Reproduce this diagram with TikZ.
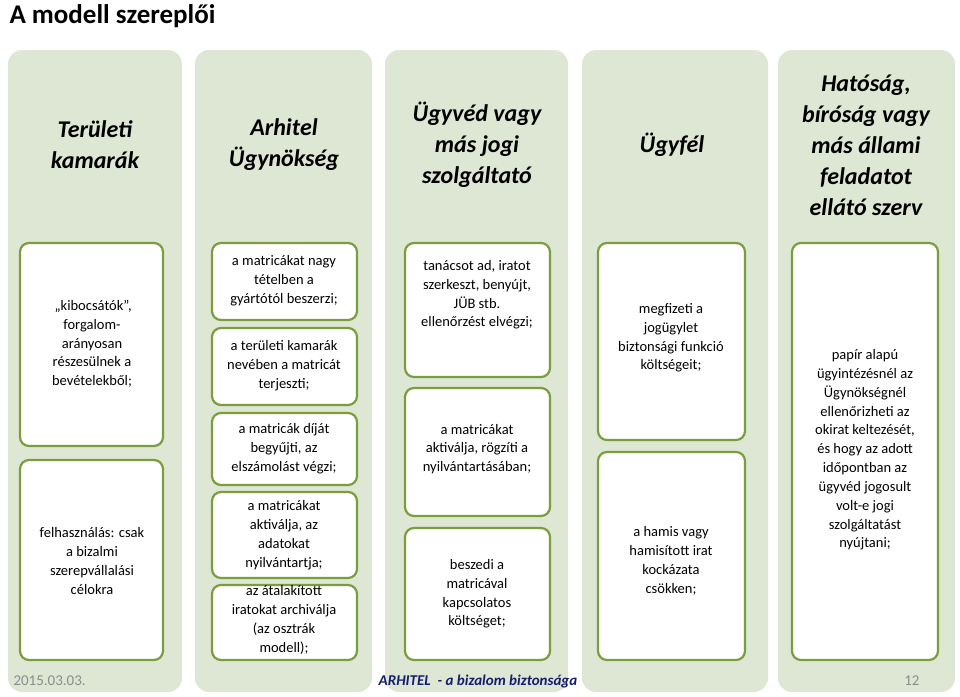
\documentclass[tikz,border=0pt]{standalone}
\usepackage{fontspec}
\setmainfont{Carlito}
\usetikzlibrary{positioning}
\definecolor{colbg}{RGB}{222,231,212}
\definecolor{boxline}{RGB}{122,158,62}
\definecolor{footblue}{RGB}{20,30,110}

\begin{document}
\begin{tikzpicture}[x=1pt,y=-1pt]
		\tikzset{
			column/.style={fill=colbg,draw=none,rounded corners=14pt},
			head/.style={font=\fontsize{24}{31}\selectfont\bfseries\itshape,align=center},
			item/.style={draw=boxline,line width=2.2pt,fill=white,rounded corners=9pt},
			itemtext/.style={font=\fontsize{14.5}{18.8}\selectfont,align=center}
		}
		\useasboundingbox (0,0) rectangle (960,696);
		\node[anchor=west,font=\fontsize{27}{30}\selectfont\bfseries] (title) at (6,16) {A modell szereplői};
		% background columns
		\fill[column] (8,50) rectangle (182,692);
		\fill[column] (195,50) rectangle (372,692);
		\fill[column] (385,50) rectangle (568,692);
		\fill[column] (582,50) rectangle (768,692);
		\fill[column] (778,50) rectangle (955,692);
		% headers
		\node[head] (h1) at (95,145) {Területi\\kamarák};
		\node[head] (h2) at (284,145) {Arhitel\\Ügynökség};
		\node[head] (h3) at (477,145) {Ügyvéd vagy\\más jogi\\szolgáltató};
		\node[head] (h4) at (672,145) {Ügyfél};
		\node[head] (h5) at (866,145) {Hatóság,\\bíróság vagy\\más állami\\feladatot\\ellátó szerv};
		% item boxes
		\draw[item] (20,243) rectangle (163,446);
		\draw[item] (20,460) rectangle (163,660);
		\draw[item] (212,243) rectangle (357,320);
		\draw[item] (212,328) rectangle (357,405);
		\draw[item] (212,413) rectangle (357,485);
		\draw[item] (212,492) rectangle (357,578);
		\draw[item] (212,585) rectangle (357,660);
		\draw[item] (405,243) rectangle (550,377);
		\draw[item] (405,388) rectangle (550,516);
		\draw[item] (405,528) rectangle (550,660);
		\draw[item] (598,243) rectangle (745,440);
		\draw[item] (598,452) rectangle (745,660);
		\draw[item] (792,243) rectangle (938,660);
		% item texts
		\node[itemtext] (t11) at (92,344) {\,„kibocsátók”,\\forgalom-\\arányosan\\részesülnek a\\bevételekből;};
		\node[itemtext] (t12) at (92,561) {felhasználás: csak\\a bizalmi\\szerepvállalási\\célokra};
		\node[itemtext] (t21) at (284,281) {a matricákat nagy\\tételben a\\gyártótól beszerzi;};
		\node[itemtext] (t22) at (284,366) {a területi kamarák\\nevében a matricát\\terjeszti;};
		\node[itemtext] (t23) at (284,449) {a matricák díját\\begyűjti, az\\elszámolást végzi;};
		\node[itemtext] (t24) at (284,535) {a matricákat\\aktiválja, az\\adatokat\\nyilvántartja;};
		\node[itemtext] (t25) at (284,620) {az átalakított\\iratokat archiválja\\(az osztrák\\modell);};
		\node[itemtext] (t31) at (477,295) {tanácsot ad, iratot\\szerkeszt, benyújt,\\JÜB stb.\\ellenőrzést elvégzi;};
		\node[itemtext] (t32) at (477,449) {a matricákat\\aktiválja, rögzíti a\\nyilvántartásában;};
		\node[itemtext] (t33) at (477,594) {beszedi a\\matricával\\kapcsolatos\\költséget;};
		\node[itemtext] (t41) at (671,338) {megfizeti a\\jogügylet\\biztonsági funkció\\költségeit;};
		\node[itemtext] (t42) at (671,561) {a hamis vagy\\hamisított irat\\kockázata\\csökken;};
		\node[itemtext] (t51) at (865,450) {papír alapú\\ügyintézésnél az\\Ügynökségnél\\ellenőrizheti az\\okirat keltezését,\\és hogy az adott\\időpontban az\\ügyvéd jogosult\\volt-e jogi\\szolgáltatást\\nyújtani;};
		% footer
		\node[anchor=west,text=black!45,font=\fontsize{15}{18}\selectfont] (date) at (10,681) {2015.03.03.};
		\node[text=footblue,font=\fontsize{15}{18}\selectfont\bfseries\itshape] (foot) at (478,681) {ARHITEL\ \ - a bizalom biztonsága};
		\node[anchor=east,text=black!45,font=\fontsize{15}{18}\selectfont] (page) at (923,681) {12};
\end{tikzpicture}
\end{document}
